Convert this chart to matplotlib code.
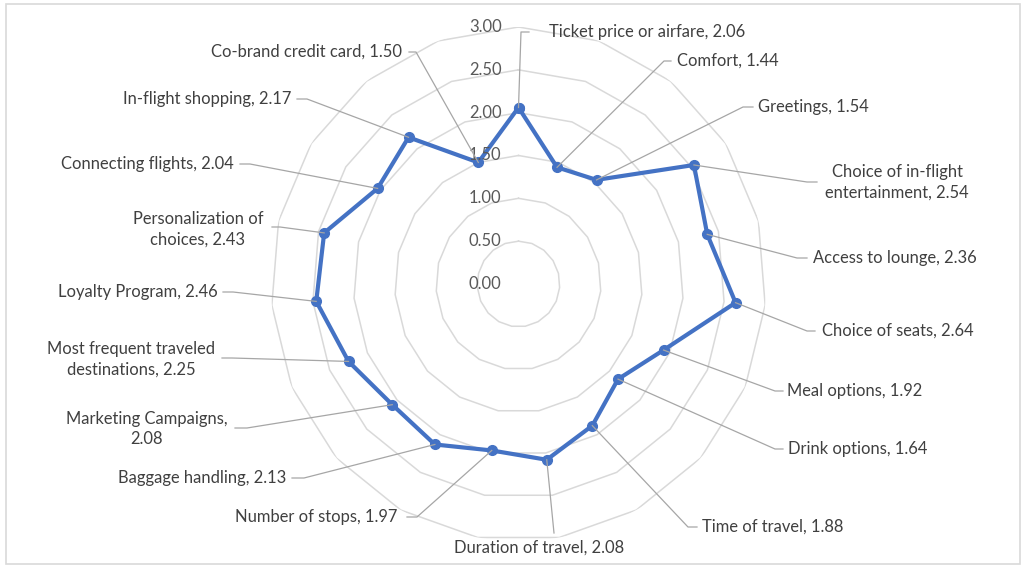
import numpy as np
import matplotlib
matplotlib.use("Agg")
import matplotlib.pyplot as plt
from matplotlib.lines import Line2D
from matplotlib.patches import Rectangle

W, H = 1022, 566

categories = ["Ticket price or airfare", "Comfort", "Greetings",
              "Choice of in-flight entertainment", "Access to lounge",
              "Choice of seats", "Meal options", "Drink options",
              "Time of travel", "Duration of travel", "Number of stops",
              "Baggage handling", "Marketing Campaigns",
              "Most frequent traveled destinations", "Loyalty Program",
              "Personalization of choices", "Connecting flights",
              "In-flight shopping", "Co-brand credit card"]
values = [2.06, 1.44, 1.54, 2.54, 2.36, 2.64, 1.92, 1.64, 1.88, 2.08,
          1.97, 2.13, 2.08, 2.25, 2.46, 2.43, 2.04, 2.17, 1.50]
ring_levels = [0.5, 1.0, 1.5, 2.0, 2.5, 3.0]
tick_levels = [0.0, 0.5, 1.0, 1.5, 2.0, 2.5, 3.0]

# where the excel labels wrap
wraps = {3: "in-flight ", 12: "Campaigns, ", 13: "traveled ", 15: "of "}

# label layout in image pixels: text x, y, align, leader knee x, y, hook
layout = [
    (549, 32, "left", 521, 32, 8),
    (677, 61, "left", 664, 61, 7),
    (758, 107, "left", 743, 107, 10),
    (897, 182, "center", 807, 182, 10),
    (813, 258, "left", 797, 258, 10),
    (822, 331, "left", 807, 331, 8),
    (787, 391, "left", 775, 391, 8),
    (788, 449, "left", 775, 449, 8),
    (702, 527, "left", 688, 527, 9),
    (539, 548, "center", 554, 533, 0),
    (397, 517, "right", 417, 517, -10),
    (286, 478, "right", 304, 478, -12),
    (147, 429, "center", 247, 428, -12),
    (131, 359, "center", 232, 358, -10),
    (218, 292, "right", 233, 292, -10),
    (198, 229, "center", 280, 227, -8),
    (234, 164, "right", 250, 164, -10),
    (291, 99, "right", 307, 99, -10),
    (402, 52, "right", 416, 52, -7),
]

plt.rcParams['font.family'] = ['Lato', 'DejaVu Sans']
FS = 11.9

fig = plt.figure(figsize=(W / 100, H / 100), dpi=100)
# the source screenshot is slightly squeezed sideways
cx, cy, RX, RY = 518.5, 284, 247.5, 257
ax = fig.add_axes([(cx - RX) / W, (H - cy - RY) / H, 2 * RX / W, 2 * RY / H],
                  projection='polar')
ax.set_aspect('auto')
ax.set_theta_zero_location('N')
ax.set_theta_direction(-1)
ax.set_ylim(0, 3)
ax.set_xticks([])
ax.set_yticks([])
ax.grid(False)
ax.spines['polar'].set_visible(False)
ax.patch.set_alpha(0)

n = len(categories)
theta = np.linspace(0, 2 * np.pi, n, endpoint=False)
theta_c = np.append(theta, theta[0])

for lv in ring_levels:
    ax.plot(theta_c, [lv] * (n + 1), color='#D9D9D9', lw=1.1, zorder=1)

vals_c = np.append(values, values[0])
ax.plot(theta_c, vals_c, color='#4472C4', lw=3.0, marker='o', ms=7,
        zorder=3)

for lv in tick_levels:
    ax.annotate(f"{lv:.2f}", xy=(0, lv), xytext=(-17, 0),
                textcoords='offset pixels', ha='right', va='center',
                fontsize=FS, color='#595959')

fig.canvas.draw()
to_fig = fig.transFigure.inverted()
for i, (cat, v) in enumerate(zip(categories, values)):
    txt = f"{cat}, {v:.2f}"
    if i in wraps:
        key = wraps[i]
        txt = txt.replace(key, key.rstrip() + "\n", 1)
    tx, ty, ha, kx, ky, hook = layout[i]
    fig.text(tx / W, 1 - ty / H, txt, ha=ha, va='center',
             multialignment='center', fontsize=FS, color='#404040',
             linespacing=1.35)
    px, py = to_fig.transform(ax.transData.transform((theta[i], v)))
    xs = [px, kx / W, (kx + hook) / W]
    ys = [py, 1 - ky / H, 1 - ky / H]
    fig.add_artist(Line2D(xs, ys, transform=fig.transFigure,
                          color='#A6A6A6', lw=0.9, zorder=2))

fig.add_artist(Rectangle((6 / W, 1 - 564 / H), 1014 / W, 560 / H,
                         transform=fig.transFigure, fill=False,
                         ec='#D9D9D9', lw=1.2))

fig.savefig("out.png", dpi=100)
